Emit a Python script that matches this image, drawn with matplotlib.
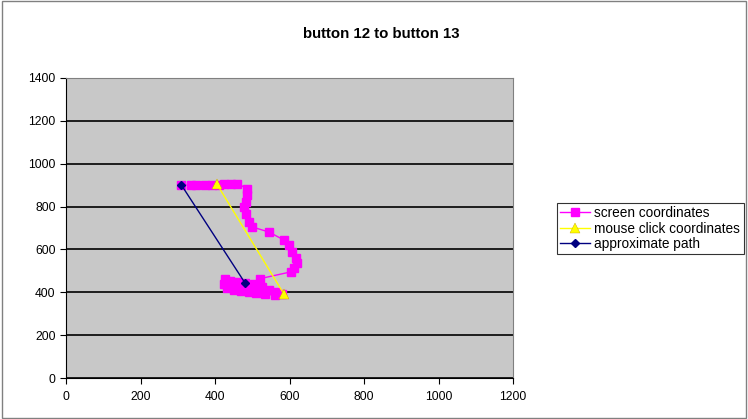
import matplotlib
matplotlib.use('AGG')
import numpy as np
import matplotlib.pyplot as plt
from matplotlib.patches import Rectangle

plt.rcParams['font.family'] = ['Liberation Sans', 'DejaVu Sans']

# screen coordinates recorded while moving from button 12 to button 13
screen_x = [310, 335, 350, 372, 393, 411, 424, 442, 460, 487, 487, 483, 478, 482,
            491, 500, 545, 585, 599, 608, 617, 621, 611, 603, 522, 505, 525, 545,
            565, 580, 560, 535, 510, 490, 470, 450, 432, 424, 428, 440, 460, 480]
screen_y = [900, 900, 899, 899, 900, 902, 905, 907, 907, 883, 852, 821, 798, 765,
            728, 705, 681, 644, 621, 589, 558, 535, 514, 495, 464, 440, 425, 410,
            400, 392, 388, 390, 395, 402, 408, 412, 420, 440, 462, 455, 448, 445]

# mouse clicks
click_x = [405, 585]
click_y = [905, 392]

# approximate (straight) path
path_x = [310, 480]
path_y = [900, 445]

fig = plt.figure(figsize=(7.48, 4.19), dpi=100)
fig.patches.append(Rectangle((0.003, 0.003), 0.994, 0.994, transform=fig.transFigure,
                             fill=False, edgecolor='#808080', linewidth=1.0))
ax = fig.add_axes([66/748, 1-378/419, (513-66)/748, 300/419])
ax.set_facecolor('#C8C8C8')

ax.plot(screen_x, screen_y, color='#FF00FF', marker='s', markersize=5.5,
        linewidth=1, label='screen coordinates', zorder=3)
ax.plot(click_x, click_y, color='#FFFF00', marker='^', markersize=6.5,
        markeredgecolor='#C8A000', markeredgewidth=0.3,
        linewidth=1, label='mouse click coordinates', zorder=4)
ax.plot(path_x, path_y, color='#000080', marker='D', markersize=4,
        linewidth=1, label='approximate path', zorder=5)

ax.set_xlim(0, 1200)
ax.set_ylim(0, 1400)
ax.set_xticks(np.arange(0, 1201, 200))
ax.set_yticks(np.arange(0, 1401, 200))
ax.yaxis.grid(True, color='black', linewidth=1.2)
ax.set_axisbelow(True)
ax.tick_params(labelsize=8.7, length=4, width=0.8, direction='out', colors='black')
ax.tick_params(axis='x', pad=5)
for s in ['top', 'right']:
    ax.spines[s].set_color('#808080')
for s in ['left', 'bottom']:
    ax.spines[s].set_color('black')

fig.text(381/748, 1-34/419, 'button 12 to button 13', ha='center', va='center',
         fontsize=10.8, fontweight='bold')

leg = fig.legend(loc='center left', bbox_to_anchor=(557/748, 1-228.5/419),
                 fontsize=9.8, frameon=True, fancybox=False, borderpad=0.25,
                 handlelength=2.2, handletextpad=0.3, labelspacing=0.1,
                 borderaxespad=0)
leg.get_frame().set_edgecolor('black')
leg.get_frame().set_linewidth(0.8)

fig.savefig('out.png', dpi=100)
